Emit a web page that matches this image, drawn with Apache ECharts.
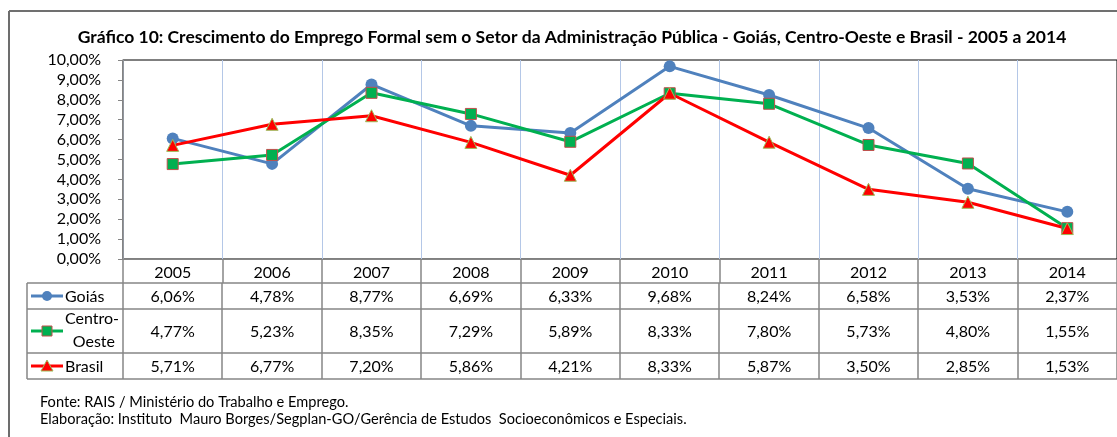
<!DOCTYPE html>
<html><head><meta charset="utf-8">
<script src="https://cdn.jsdelivr.net/npm/echarts@6/dist/echarts.min.js"></script>
<style>html,body{margin:0;padding:0;background:#fff}#c{width:1117px;height:437px}</style>
</head><body><div id="c"></div>
<script>
const titleText = 'Gráfico 10: Crescimento do Emprego Formal sem o Setor da Administração Pública - Goiás, Centro-Oeste e Brasil - 2005 a 2014';
const years = ['2005','2006','2007','2008','2009','2010','2011','2012','2013','2014'];
const goias = [6.06, 4.78, 8.77, 6.69, 6.33, 9.68, 8.24, 6.58, 3.53, 2.37];
const centroOeste = [4.77, 5.23, 8.35, 7.29, 5.89, 8.33, 7.80, 5.73, 4.80, 1.55];
const brasil = [5.71, 6.77, 7.20, 5.86, 4.21, 8.33, 5.87, 3.50, 2.85, 1.53];
const seriesNames = ['Goiás', 'Centro-Oeste', 'Brasil'];
const sourceLines = ['Fonte: RAIS / Ministério do Trabalho e Emprego.',
  'Elaboração: Instituto  Mauro Borges/Segplan-GO/Gerência de Estudos  Socioeconômicos e Especiais.'];

const FONT = 'Lato';
const FS = 16;
const fmt = v => v.toFixed(2).replace('.', ',') + '%';
const chart = echarts.init(document.getElementById('c'));
const option = {
  animation: false,
  textStyle: { fontFamily: FONT },
  title: { text: titleText, left: 567, top: 23, textAlign: 'center',
    textStyle: { fontSize: 17.5, fontWeight: 'bold', color: '#000', fontFamily: FONT } },
  grid: { left: 123, top: 60, right: -10, bottom: 178, show: true, borderColor: '#000', borderWidth: 1, containLabel: false },
  xAxis: { type: 'category', data: years, boundaryGap: true,
    axisLine: { lineStyle: { color: '#868686', width: 1 } },
    axisTick: { show: true, length: 24, lineStyle: { color: '#868686', width: 1.5 } },
    axisLabel: { fontSize: FS, color: '#000', margin: 6, fontFamily: FONT },
    splitLine: { show: true, lineStyle: { color: '#b4c7e7', width: 1 } } },
  yAxis: { type: 'value', min: 0, max: 10, interval: 1,
    axisLine: { show: true, lineStyle: { color: '#868686', width: 1.5 } },
    axisTick: { show: true, length: 5, lineStyle: { color: '#868686' } },
    axisLabel: { formatter: v => fmt(v), fontSize: FS, color: '#000', margin: 22, fontFamily: FONT },
    splitLine: { show: false } },
  series: [
    { name: seriesNames[0], type: 'line', data: goias, symbol: 'circle', symbolSize: 12,
      lineStyle: { color: '#4f81bd', width: 3 }, itemStyle: { color: '#4f81bd' } },
    { name: seriesNames[1], type: 'line', data: centroOeste, symbol: 'rect', symbolSize: 11,
      lineStyle: { color: '#00b050', width: 3 }, itemStyle: { color: '#00b050', borderColor: '#c0504d', borderWidth: 1 } },
    { name: seriesNames[2], type: 'line', data: brasil, symbol: 'triangle', symbolSize: 12,
      lineStyle: { color: '#ff0000', width: 3 }, itemStyle: { color: '#ff0000', borderColor: '#9bbb59', borderWidth: 1 } }
  ]
};
chart.setOption(option);

const g = [];
const lineC = '#868686';
g.push({ type: 'line', shape: { x1: 9, y1: 11, x2: 1117, y2: 11 }, style: { stroke: '#404040', lineWidth: 1.5 } });
g.push({ type: 'line', shape: { x1: 9, y1: 11, x2: 9, y2: 437 }, style: { stroke: '#6d6d6d', lineWidth: 2 } });
const rows = [
  { y1: 283, y2: 309, data: goias },
  { y1: 309, y2: 353, data: centroOeste },
  { y1: 353, y2: 379, data: brasil }
];
const xLeft = 27, xRight = 1127;
[283, 309, 353, 379].forEach(y => g.push({ type: 'line', shape: { x1: xLeft, y1: y, x2: xRight, y2: y }, style: { stroke: lineC, lineWidth: 1.5 } }));
g.push({ type: 'line', shape: { x1: xLeft, y1: 283, x2: xLeft, y2: 379 }, style: { stroke: lineC, lineWidth: 1.5 } });
const centers = years.map(y => chart.convertToPixel({ xAxisIndex: 0 }, y));
const step = centers[1] - centers[0];
for (let i = 0; i <= years.length; i++) {
  const x = Math.round(centers[0] - step / 2 + i * step);
  g.push({ type: 'line', shape: { x1: x, y1: 283, x2: x, y2: 379 }, style: { stroke: lineC, lineWidth: 1.5 } });
}
rows.forEach(r => {
  r.data.forEach((v, i) => {
    g.push({ type: 'text', x: centers[i], y: (r.y1 + r.y2) / 2 + 1,
      style: { text: fmt(v), fontSize: FS, fontFamily: FONT, fill: '#000', align: 'center', verticalAlign: 'middle' } });
  });
});
const symColors = ['#4f81bd', '#00b050', '#ff0000'];
const legY = [296, 331, 366];
legY.forEach((y, k) => {
  g.push({ type: 'line', shape: { x1: 31, y1: y, x2: 63, y2: y }, style: { stroke: symColors[k], lineWidth: 3 } });
});
g.push({ type: 'circle', shape: { cx: 47, cy: legY[0], r: 5 }, style: { fill: '#4f81bd' } });
g.push({ type: 'rect', shape: { x: 42, y: legY[1] - 5, width: 10, height: 10 }, style: { fill: '#00b050', stroke: '#c0504d', lineWidth: 1 } });
g.push({ type: 'polygon', shape: { points: [[47, legY[2] - 6], [53, legY[2] + 5], [41, legY[2] + 5]] }, style: { fill: '#ff0000', stroke: '#9bbb59', lineWidth: 1 } });
g.push({ type: 'text', x: 65, y: legY[0] + 1, style: { text: seriesNames[0], fontSize: FS, fontFamily: FONT, fill: '#000', verticalAlign: 'middle' } });
g.push({ type: 'text', x: 65, y: 319, style: { text: 'Centro-', fontSize: FS, fontFamily: FONT, fill: '#000', verticalAlign: 'middle' } });
g.push({ type: 'text', x: 115, y: 342, style: { text: 'Oeste', fontSize: FS, fontFamily: FONT, fill: '#000', align: 'right', verticalAlign: 'middle' } });
g.push({ type: 'text', x: 65, y: legY[2] + 1, style: { text: seriesNames[2], fontSize: FS, fontFamily: FONT, fill: '#000', verticalAlign: 'middle' } });
g.push({ type: 'text', x: 40, y: 402, style: { text: sourceLines[0], fontSize: 14.6, fontFamily: FONT, fill: '#000', verticalAlign: 'middle' } });
g.push({ type: 'text', x: 40, y: 419, style: { text: sourceLines[1], fontSize: 14.6, fontFamily: FONT, fill: '#000', verticalAlign: 'middle' } });
chart.setOption({ graphic: g });
</script></body></html>
